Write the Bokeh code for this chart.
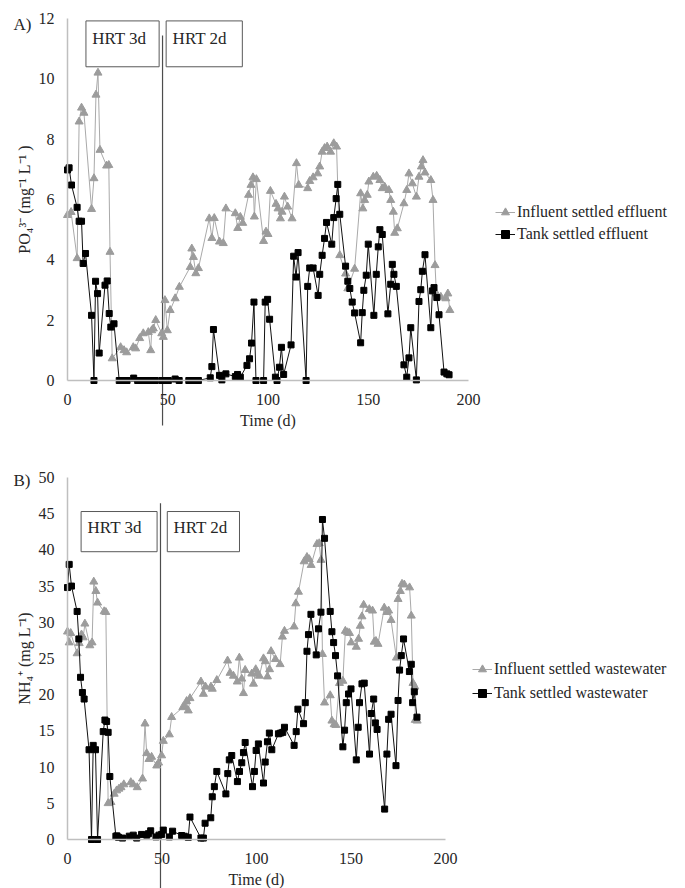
from bokeh.plotting import figure
from bokeh.models import Range1d, LinearAxis, FixedTicker, Legend, LegendItem, Label
from bokeh.layouts import column
from bokeh.core.properties import value
from bokeh.embed import file_html
from bokeh.resources import INLINE

# ---------------- Panel A data (PO4) ----------------
a_infl_day = [0, 1.8, 4.8, 5.8, 7.0, 8.2, 12.0, 13.2, 14.2, 15.2, 16.2, 19.5, 20.6, 21.2, 22.3,
              26.5, 28.2, 29.5, 32.8, 34.0, 36.0, 37.8, 40.3, 41.5, 42.0, 42.8, 44.0, 47.0, 47.8,
              48.6, 49.8, 51.2, 53.7, 55.8, 61.2, 62.0, 62.8, 64.0, 65.3, 70.7, 72.0, 73.2, 75.8,
              77.7, 79.0, 83.7, 84.9, 86.2, 87.4, 90.3, 91.5, 92.5, 93.2, 94.2, 97.8, 99.0, 100.0,
              101.2, 104.0, 105.0, 106.2, 107.0, 108.2, 109.8, 112.0, 114.2, 115.3, 119.8, 120.8,
              122.5, 124.8, 125.8, 127.0, 128.2, 129.5, 131.2, 132.8, 134.2, 135.8, 138.7, 139.8,
              143.2, 146.2, 147.3, 148.2, 149.5, 150.3, 152.5, 154.2, 155.8, 157.0, 158.2, 160.3,
              161.2, 162.5, 163.2, 164.5, 167.8, 169.2, 170.3, 172.0, 174.0, 175.3, 176.5, 177.3,
              178.3, 181.2, 182.3, 183.3, 184.0, 186.2, 188.7, 189.7, 190.7]
a_infl_val = [5.48, 5.58, 4.05, 8.58, 9.04, 8.87, 5.68, 6.7, 9.47, 10.2, 7.64, 7.12, 7.14, 4.26, 0.73,
              1.1, 1.0, 0.93, 1.1, 1.06, 1.4, 1.56, 1.6, 1.0, 1.66, 1.72, 2.0, 1.56, 1.44,
              2.66, 1.66, 2.33, 2.72, 3.1, 3.76, 4.37, 4.09, 3.55, 3.72, 5.37, 4.72, 5.38, 4.6,
              4.55, 5.7, 5.54, 5.05, 5.42, 5.22, 6.15, 6.48, 6.73, 5.43, 6.67, 4.62, 4.93, 4.85,
              6.28, 5.85, 5.7, 5.37, 5.59, 6.09, 5.76, 5.37, 7.2, 6.48, 6.37, 6.61,
              6.73, 6.86, 7.09, 7.58, 7.7, 7.75, 7.58, 7.86, 7.75, 4.15, 3.54, 3.05,
              3.7, 6.2, 5.7, 5.98, 6.15, 6.59, 6.75, 6.78, 6.64, 6.37, 6.42, 6.31,
              5.98, 5.59, 4.89, 5.04, 5.87, 6.31, 6.86, 6.53, 6.09, 6.75, 7.09, 7.3,
              6.89, 6.64, 5.98, 3.82, 2.88, 2.77, 2.72, 2.88, 2.33]

a_tank_day = [0, 0.8, 2.0, 4.8, 5.8, 7.0, 7.8, 9.0, 12.0, 13.2, 14.0, 15.0, 15.8, 18.7, 19.8, 20.8,
              21.6, 23.2, 25.8, 27.2, 28.3, 29.7, 33.0, 35.0, 36.3, 38.8, 40.3, 42.0, 43.7, 47.0,
              48.7, 50.3, 53.7, 55.7, 60.5, 61.7, 62.8, 65.3, 71.2, 72.0, 72.8, 75.8, 77.0, 79.0,
              83.7, 84.8, 86.2, 89.5, 90.8, 91.8, 93.0, 94.0, 97.8, 98.6, 99.8, 100.8, 103.7,
              104.5, 105.7, 106.7, 107.8, 111.5, 112.8, 114.0, 115.0, 119.0, 119.8, 120.8, 122.5,
              125.0, 125.8, 127.0, 128.2, 129.2, 131.8, 132.8, 134.0, 134.8, 135.8, 138.7, 139.8,
              140.8, 142.0, 143.2, 146.2, 147.0, 147.8, 149.0, 150.0, 152.8, 154.0, 155.0, 155.8,
              157.0, 159.8, 161.2, 162.0, 162.8, 164.0, 167.8, 169.2, 170.3, 171.2, 174.0, 175.3,
              176.2, 177.0, 178.3, 181.2, 182.0, 182.8, 184.2, 185.3, 187.8, 189.2, 190.3]
a_tank_val = [6.98, 7.05, 6.48, 5.74, 5.28, 5.28, 3.88, 4.21, 2.16, 0, 3.29, 2.88, 0.91, 3.16, 3.3, 2.22,
              1.77, 1.88, 0, 0, 0, 0, 0.08, 0, 0, 0, 0, 0, 0, 0,
              0, 0, 0.05, 0, 0, 0, 0, 0, 0.09, 0.46, 1.69, 0.17, 0.02, 0.22,
              0.13, 0.2, 0.11, 0.5, 0.72, 1.24, 2.6, 0, 0, 2.6, 2.69, 2.03, 0.11,
              0, 0.44, 1.1, 0.2, 1.18, 4.12, 3.43, 4.24, 0, 3.12, 3.73, 3.73,
              2.82, 3.52, 4.15, 4.71, 5.24, 4.52, 5.4, 6.03, 6.5, 5.51, 3.79, 3.29,
              3.05, 2.6, 2.24, 1.25, 2.25, 2.99, 3.49, 4.52, 2.16, 3.52, 4.43, 5.0,
              4.84, 2.21, 3.19, 3.85, 3.52, 3.12, 0.52, 0.11, 0.75, 1.75, 0.02, 2.62,
              3.01, 3.62, 4.17, 1.75, 2.97, 3.08, 2.75, 2.18, 0.28, 0.22, 0.19]

# ---------------- Panel B data (NH4) ----------------
b_infl_day = [0, 0.9, 1.7, 5.1, 6.2, 7.4, 8.3, 9.2, 11.8, 13.0, 13.9, 15.0, 15.9, 19.4, 20.3, 21.5,
              23.0, 24.7, 26.0, 27.2, 28.3, 29.8, 33.5, 34.8, 36.9, 39.7, 41.0, 41.9, 43.1, 44.5,
              47.2, 48.2, 49.8, 50.7, 53.9, 55.1, 61.0, 62.0, 63.0, 63.9, 64.8, 70.6, 71.9, 73.0,
              75.9, 76.6, 79.0, 84.7, 86.0, 87.8, 89.8, 90.9, 92.2, 93.1, 94.0, 97.5, 98.4, 99.6,
              100.3, 101.5, 103.7, 104.7, 105.8, 106.9, 107.7, 110.0, 112.5, 113.7, 114.8, 119.9,
              120.8, 122.2, 125.2, 126.7, 127.9, 128.9, 132.0, 133.2, 134.1, 134.9, 136.0, 139.0,
              139.9, 141.1, 142.0, 143.9, 145.7, 147.0, 148.2, 149.2, 150.1, 152.8, 154.0, 154.9,
              155.8, 156.7, 159.7, 161.4, 162.3, 163.2, 164.3, 167.6, 169.0, 169.9, 171.2, 174.0,
              174.9, 176.1, 177.0, 178.2, 181.0, 181.9, 182.8, 183.8, 184.0, 185.0]
b_infl_val = [28.7, 27.2, 28.5, 25.7, 27.1, 28.3, 27.9, 29.8, 26.8, 27.2, 35.6, 34.3, 32.7, 31.5, 31.4, 5.0,
              5.15, 6.3, 6.76, 7.0, 7.2, 7.6, 7.9, 7.6, 7.2, 8.4, 16.0, 11.9, 11.1, 11.4,
              10.2, 10.6, 11.6, 13.6, 14.5, 16.9, 18.25, 18.4, 19.1, 17.8, 19.5, 21.8, 20.1, 21.1,
              21.1, 20.8, 22.0, 24.7, 23.0, 22.6, 21.8, 25.1, 22.2, 20.2, 23.4, 22.9, 21.5, 23.5,
              22.9, 22.6, 25.0, 24.6, 22.5, 23.5, 26.0, 24.9, 24.2, 28.0, 28.8, 29.4,
              32.6, 34.2, 38.4, 39.0, 38.7, 37.9, 40.8, 40.9, 38.6, 25.6, 18.9, 19.9,
              16.4, 15.9, 15.8, 21.6, 21.9, 28.8, 28.6, 28.5, 27.2, 26.6, 27.7, 29.5,
              30.8, 32.4, 31.8, 31.6, 27.3, 27.4, 27.0, 32.0, 31.4, 31.6, 30.3, 25.1,
              33.2, 34.3, 35.3, 35.2, 34.8, 30.9, 21.6, 21.1, 16.5, 16.4]

b_tank_day = [0, 0.9, 2.1, 5.1, 6.0, 6.9, 7.9, 8.8, 11.4, 12.7, 13.6, 14.8, 15.9, 18.9, 19.8, 20.7,
              21.5, 22.4, 25.6, 26.2, 27.0, 29.1, 32.7, 34.8, 36.6, 39.2, 41.9, 42.8, 44.0, 46.8,
              48.4, 49.8, 50.7, 53.9, 55.6, 60.4, 61.8, 63.9, 64.8, 70.6, 71.9, 72.8, 75.8, 76.6,
              77.7, 79.0, 83.8, 84.8, 85.6, 86.9, 89.9, 91.0, 92.2, 93.1, 94.0, 97.9, 98.9, 99.8,
              101.0, 103.7, 104.6, 105.8, 106.8, 108.1, 111.6, 112.7, 113.9, 114.8, 119.9, 121.0,
              121.9, 124.9, 125.8, 126.7, 127.5, 128.8, 131.6, 132.8, 134.1, 134.9, 136.0, 139.0,
              139.9, 140.8, 141.8, 142.9, 145.7, 146.6, 147.5, 148.7, 150.0, 152.8, 153.8, 154.5,
              155.8, 157.0, 159.8, 160.7, 162.0, 162.9, 163.8, 167.8, 169.0, 169.9, 171.2, 173.8,
              174.9, 175.7, 176.6, 177.8, 180.9, 181.9, 182.6, 183.5, 184.9]
b_tank_val = [34.8, 38.0, 35.0, 31.5, 27.7, 22.4, 20.3, 19.4, 12.4, 0, 13.0, 12.4, 0, 14.9, 16.5, 16.3,
              14.8, 8.7, 0.46, 0.5, 0.3, 0.2, 0.46, 0.6, 0.2, 0.7, 0.6, 0.8, 1.2, 0.36,
              0.6, 0.7, 1.3, 0.36, 1.15, 0.55, 0.45, 0.3, 3.1, 0.2, 0.2, 2.25, 3.0, 5.9,
              7.3, 9.4, 6.3, 9.1, 11.0, 11.6, 8.0, 9.4, 10.6, 12.0, 13.4, 7.3, 9.4, 12.3,
              13.2, 7.8, 10.7, 13.5, 14.7, 12.4, 14.6, 14.7, 14.8, 15.5, 13.0, 14.9,
              18.0, 16.0, 18.9, 26.0, 28.3, 31.1, 25.5, 29.1, 31.4, 44.2, 41.6, 31.5,
              28.7, 27.2, 25.4, 22.6, 12.8, 15.1, 18.9, 20.1, 20.8, 11.0, 15.5, 18.9,
              21.5, 21.6, 11.8, 17.4, 19.4, 16.1, 15.2, 4.2, 11.8, 16.6, 17.3, 10.2,
              19.2, 23.4, 25.4, 27.7, 23.2, 24.2, 18.9, 20.4, 16.9]

assert len(a_infl_day) == len(a_infl_val)
assert len(a_tank_day) == len(a_tank_val)
assert len(b_infl_day) == len(b_infl_val)
assert len(b_tank_day) == len(b_tank_val)

x_ticks = [0, 50, 100, 150, 200]
a_y_ticks = [0, 2, 4, 6, 8, 10, 12]
b_y_ticks = [0, 5, 10, 15, 20, 25, 30, 35, 40, 45, 50]

a_legend_labels = ["Influent settled effluent", "Tank settled effluent"]
b_legend_labels = ["Influent settled wastewater", "Tank settled wastewater"]
hrt_labels = ["HRT 3d", "HRT 2d"]

FONT = "Liberation Serif"
TXT = "#262626"
GRAY_LINE = "#a9a9a9"
GRAY_MARK = "#9c9c9c"
BLACK = "#111111"
AXIS = "#bfbfbf"

W, H = 685, 444


def make_panel(x0_px, px_per_day, y_top_px, y_zero_px, y_top_val,
               y_ticks, y_label, infl_d, infl_v, tank_d, tank_v, labels,
               divider_x, divider_top, divider_bottom, boxes, panel_letter, letter_pos,
               legend_loc, legend_spacing):
    # the frame covers the whole canvas; axes are drawn at data 0 with bounds
    ppu = (y_zero_px - y_top_px) / y_top_val
    x_lo = -x0_px / px_per_day
    x_hi = (W - x0_px) / px_per_day
    y_hi = y_top_val + y_top_px / ppu
    y_lo = -(H - y_zero_px) / ppu
    p = figure(width=W, height=H, x_range=Range1d(x_lo, x_hi), y_range=Range1d(y_lo, y_hi),
               x_axis_location=None, y_axis_location=None, toolbar_location=None,
               output_backend="svg", min_border=0)
    p.outline_line_color = None
    p.xgrid.visible = False
    p.ygrid.visible = False
    p.background_fill_color = "white"
    p.border_fill_color = "white"

    xa = LinearAxis(fixed_location=0, bounds=(0, 200), ticker=FixedTicker(ticks=x_ticks),
                    axis_label="Time (d)")
    ya = LinearAxis(fixed_location=0, bounds=(y_ticks[0], y_ticks[-1]),
                    ticker=FixedTicker(ticks=y_ticks), axis_label=y_label)
    for ax in (xa, ya):
        ax.axis_line_color = AXIS
        ax.axis_line_width = 1.5
        ax.major_tick_line_color = None
        ax.minor_tick_line_color = None
        ax.major_tick_out = 0
        ax.major_tick_in = 0
        ax.major_label_text_font = FONT
        ax.major_label_text_font_size = "16px"
        ax.major_label_text_color = TXT
        ax.axis_label_text_font = FONT
        ax.axis_label_text_font_size = "16px"
        ax.axis_label_text_font_style = "normal"
        ax.axis_label_text_color = TXT
    xa.major_label_standoff = 13
    xa.axis_label_standoff = 4
    ya.major_label_standoff = 13
    ya.axis_label_standoff = 3
    p.add_layout(xa, "below")
    p.add_layout(ya, "left")

    # HRT boxes
    for (l, r, b, t), lab in zip(boxes, hrt_labels):
        p.quad(left=[l], right=[r], bottom=[b], top=[t], fill_color="white", fill_alpha=1,
               line_color="#595959", line_width=1)
        p.text(x=[l + (r - l) * 0.085], y=[t - (t - b) * 0.17], text=[lab],
               text_font=value(FONT), text_font_size="17px", text_color=TXT,
               text_baseline="top", text_align="left")

    # divider between HRT periods
    p.segment(x0=[divider_x], y0=[divider_top], x1=[divider_x], y1=[divider_bottom],
              line_color="#4d4d4d", line_width=1.2)

    l1 = p.line(infl_d, infl_v, line_color=GRAY_LINE, line_width=1)
    s1 = p.scatter(infl_d, infl_v, marker="triangle", size=8, fill_color=GRAY_MARK,
                   line_color=GRAY_MARK)
    l2 = p.line(tank_d, tank_v, line_color=BLACK, line_width=1)
    s2 = p.scatter(tank_d, tank_v, marker="square", size=6, fill_color="#000000",
                   line_color="#000000")

    leg = Legend(items=[LegendItem(label=labels[0], renderers=[l1, s1]),
                        LegendItem(label=labels[1], renderers=[l2, s2])],
                 location=legend_loc, orientation="vertical", border_line_color=None,
                 background_fill_alpha=0, padding=0, margin=0, spacing=legend_spacing,
                 glyph_width=20, glyph_height=20, label_height=20, label_standoff=2,
                 label_text_font=FONT, label_text_font_size="16px", label_text_color=TXT)
    p.add_layout(leg)

    p.add_layout(Label(x=letter_pos[0], y=letter_pos[1], text=panel_letter, text_font=FONT,
                       text_font_size="17px", text_color=TXT, text_baseline="middle",
                       text_align="left"))
    return p


# Panel A: x 0 at 67px, 2.005 px/day; y 12 at 18px, 0 at 380px
pa = make_panel(x0_px=67, px_per_day=2.005, y_top_px=18, y_zero_px=380, y_top_val=12,
                y_ticks=a_y_ticks,
                y_label="PO\u2084\u00b3\u207b (mg\u207b\u00b9 L\u207b\u00b9 )",
                infl_d=a_infl_day, infl_v=a_infl_val, tank_d=a_tank_day, tank_v=a_tank_val,
                labels=a_legend_labels, divider_x=47.4, divider_top=11.44, divider_bottom=-1.49,
                boxes=[(9.2, 45.7, 10.4, 11.92), (49.2, 87.2, 10.4, 11.92)],
                panel_letter="A)", letter_pos=(-26.9, 11.8), legend_loc=(495, 200),
                legend_spacing=2)

# Panel B: x 0 at 67px, 1.89 px/day; y 50 at 33px, 0 at 395px (within its own canvas)
pb = make_panel(x0_px=67, px_per_day=1.89, y_top_px=33, y_zero_px=395, y_top_val=50,
                y_ticks=b_y_ticks,
                y_label="NH\u2084\u207a (mg L\u207b\u00b9)",
                infl_d=b_infl_day, infl_v=b_infl_val, tank_d=b_tank_day, tank_v=b_tank_val,
                labels=b_legend_labels, divider_x=49.2, divider_top=46.45, divider_bottom=-6.8,
                boxes=[(7.2, 47.4, 39.75, 45.3), (52.8, 91.0, 39.75, 45.3)],
                panel_letter="B)", letter_pos=(-28.6, 49.6), legend_loc=(472, 185),
                legend_spacing=4)

layout = column(pa, pb, spacing=0)
open("out.html", "w").write(file_html(layout, INLINE))
